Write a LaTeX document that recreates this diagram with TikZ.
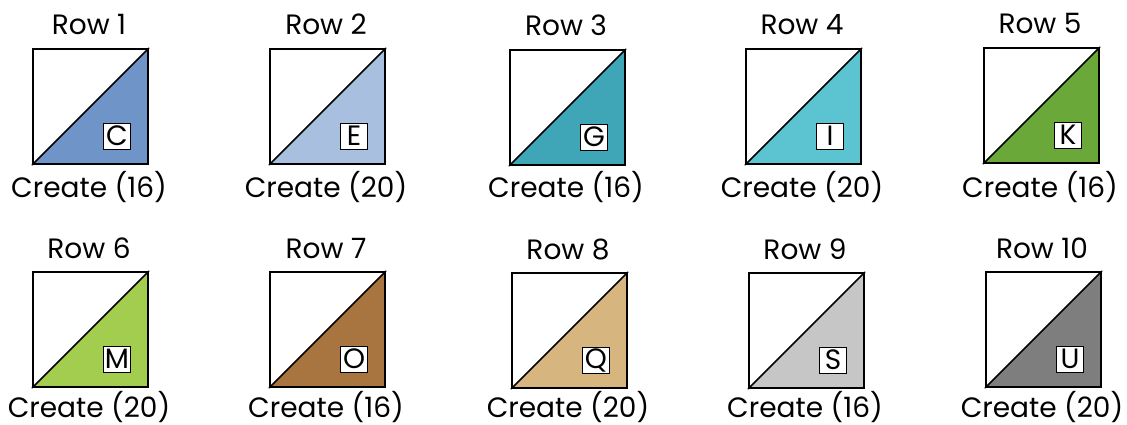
\documentclass[tikz,border=0pt]{standalone}
\usepackage{fontspec}
\setmainfont{Poppins}
\definecolor{c1}{HTML}{6F94C8}
\definecolor{c2}{HTML}{A8BFDF}
\definecolor{c3}{HTML}{3FA6B8}
\definecolor{c4}{HTML}{5CC3D0}
\definecolor{c5}{HTML}{6BA83A}
\definecolor{c6}{HTML}{A3CD4F}
\definecolor{c7}{HTML}{A87540}
\definecolor{c8}{HTML}{D6B57F}
\definecolor{c9}{HTML}{C6C6C6}
\definecolor{c10}{HTML}{7E7E7E}
\begin{document}
\begin{tikzpicture}[x=1pt,y=-1pt,
  block/.style={draw=black, line width=1.6pt, minimum size=115pt, inner sep=0pt},
  lbl/.style={font=\fontsize{28}{30}\selectfont, inner sep=0pt, anchor=base},
  letterbox/.style={draw=black, fill=white, line width=0.8pt, minimum width=27pt, minimum height=26pt, inner sep=0pt, font=\fontsize{28}{30}\selectfont}]
\useasboundingbox (0,0) rectangle (1127,425);
\foreach \i/\x/\y/\c/\L/\n/\b in {1/33/49/c1/C/16/197, 2/270/49/c2/E/20/197, 3/510/50/c3/G/16/197, 4/746/49/c4/I/20/197, 5/984/48/c5/K/16/197,
  6/33/272/c6/M/20/417, 7/270/272/c7/O/16/417, 8/512/273/c8/Q/20/417, 9/749/273/c9/S/16/417, 10/986/272/c10/U/20/417}{
  \node[block, path picture={\fill[\c] (path picture bounding box.south west) -- (path picture bounding box.north east) -- (path picture bounding box.south east) -- cycle;}] (sq\i) at (\x+57.5,\y+57.5) {};
  \draw[line width=1.6pt, line cap=round] (sq\i.south west) -- (sq\i.north east);
  \node[letterbox] (lt\i) at (\x+84,\y+87) {\L};
  \node[lbl] (row\i) at (\x+56,\y-14) {Row \i};
  \node[lbl] (cr\i) at (\x+56,\b) {Create (\n)};
}
\end{tikzpicture}
\end{document}
